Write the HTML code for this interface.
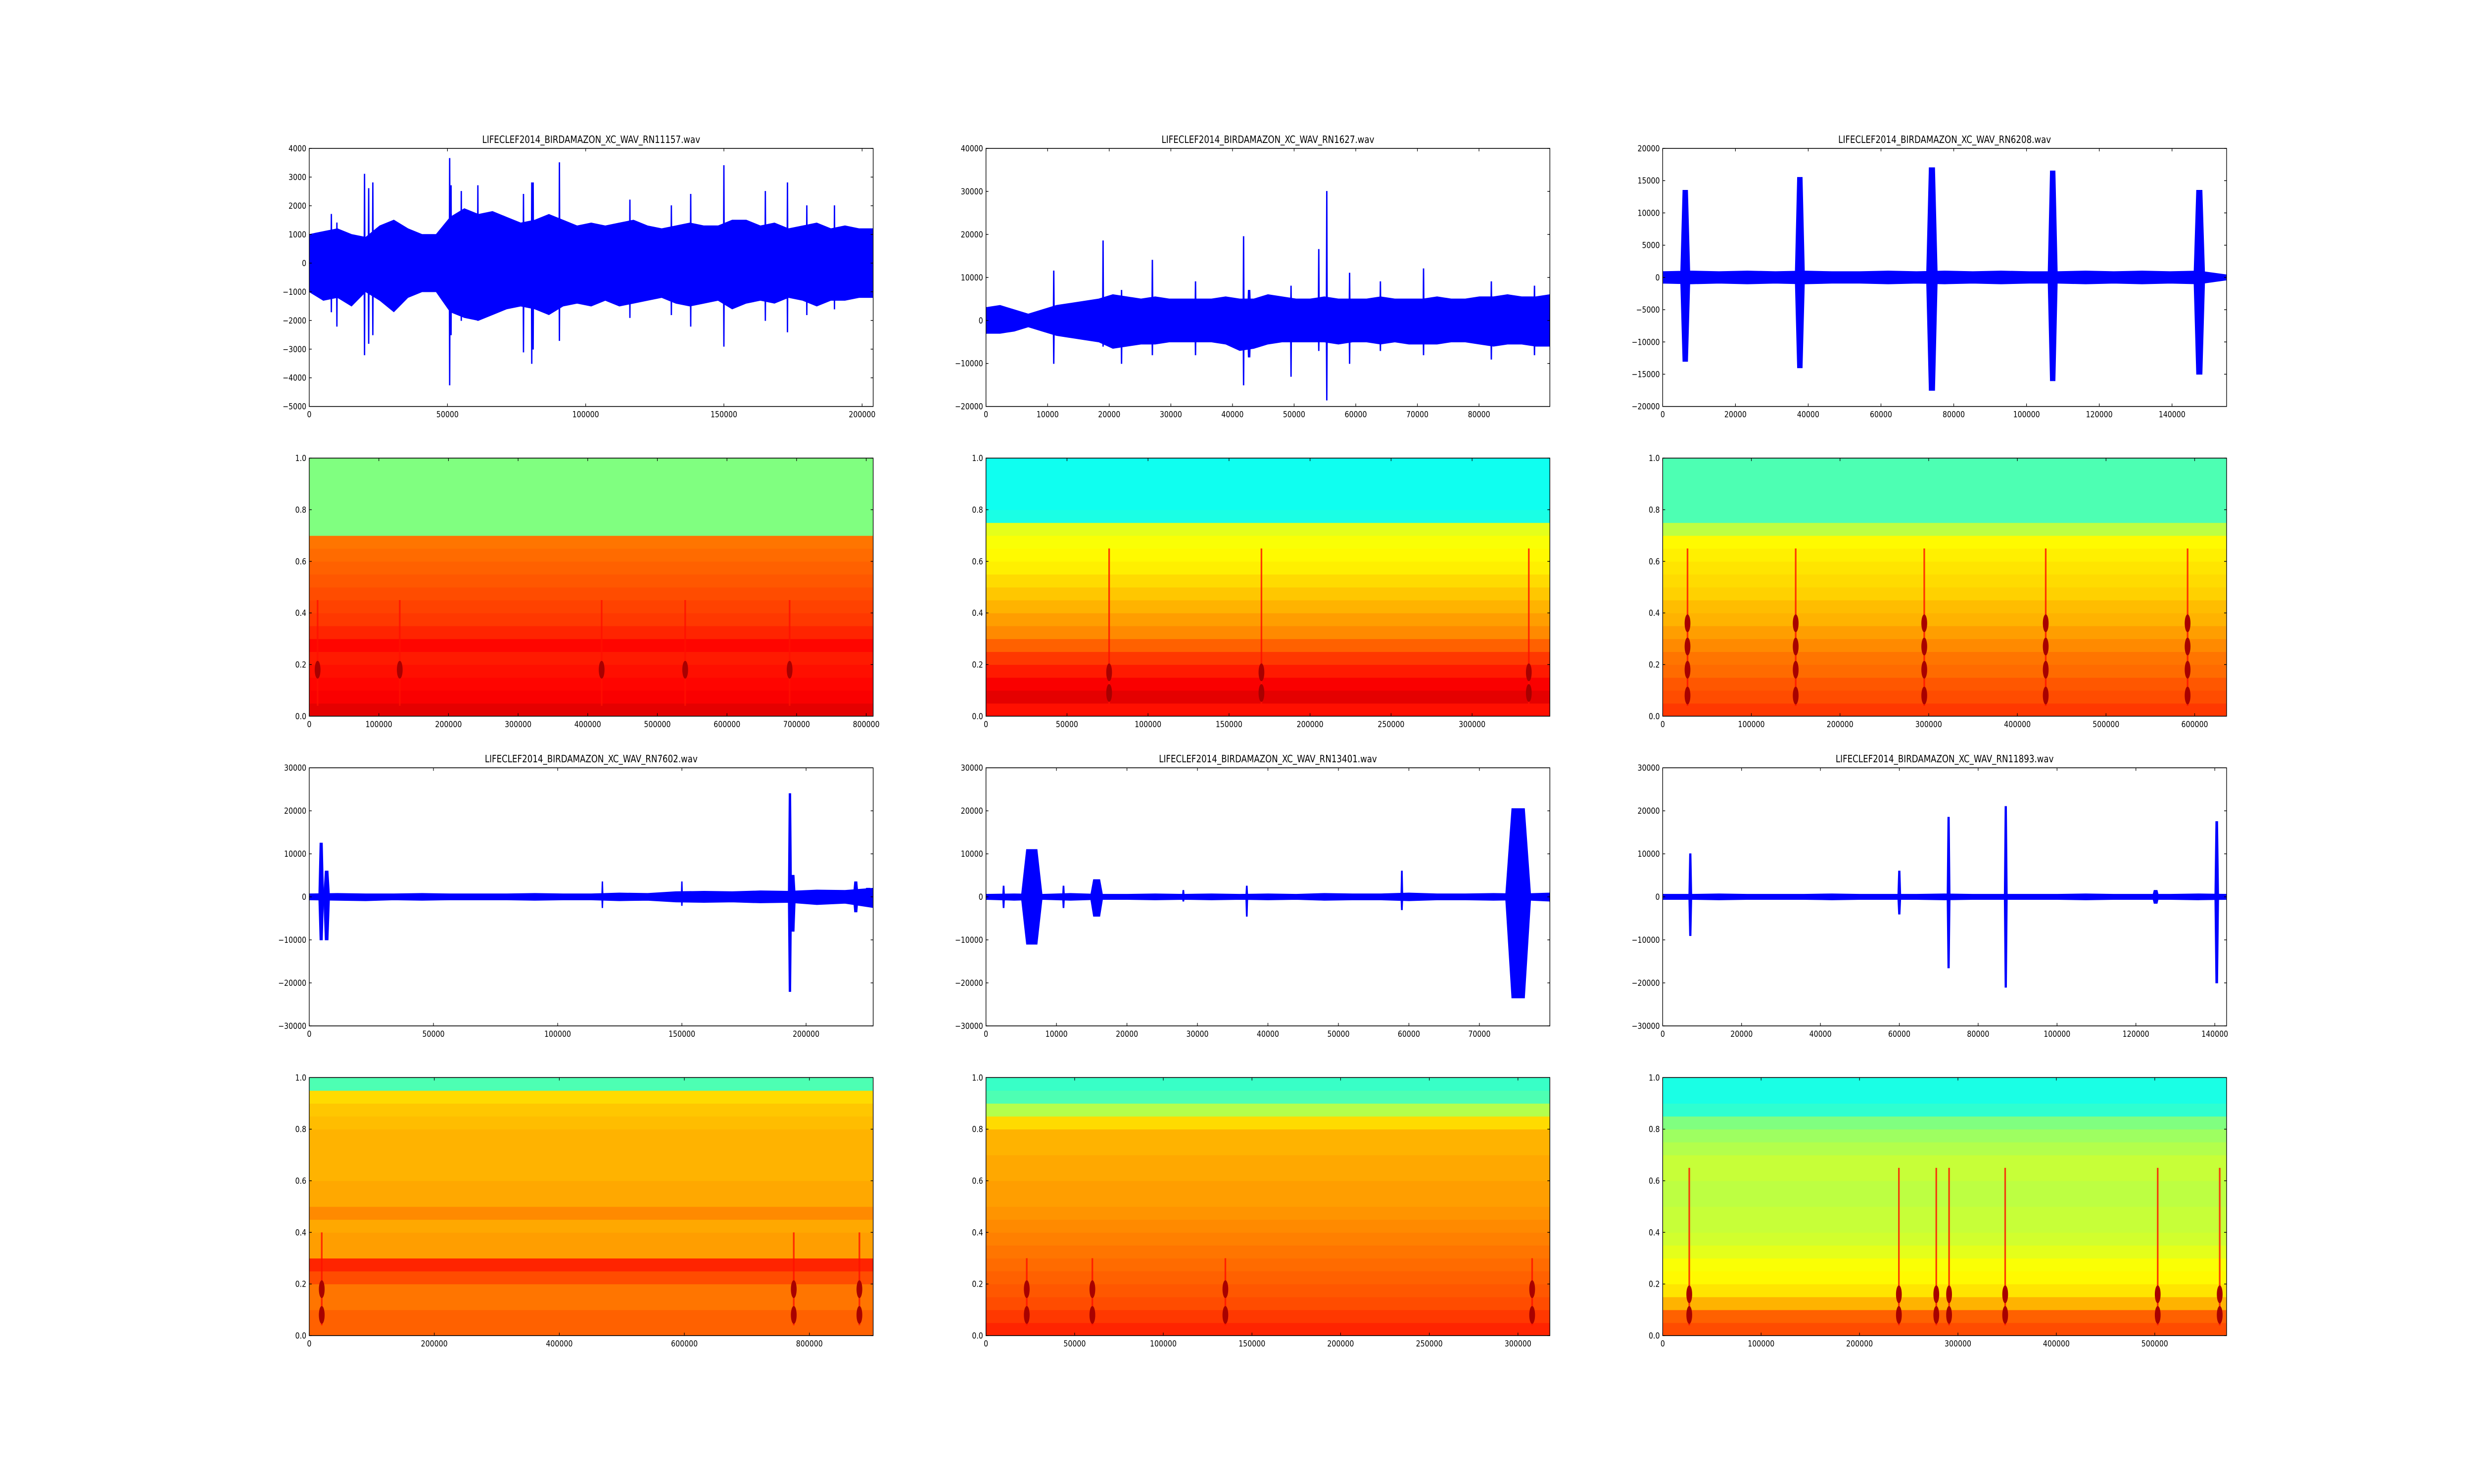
<!DOCTYPE html>
<html><head><meta charset="utf-8">
<style>
html,body{margin:0;padding:0;background:#fff;overflow:hidden;width:100%;height:100%;}
svg{display:block;width:100vw;height:100vh;}
text{font-family:"DejaVu Sans","Liberation Sans",sans-serif;fill:#000;}
</style></head>
<body>
<svg id="fig" viewBox="0 0 6000 3000" preserveAspectRatio="none" xmlns="http://www.w3.org/2000/svg">
<rect x="0" y="0" width="6000" height="3000" fill="#fff"/>
</svg>
<script>
// ---------- waveform data ----------
const titles = ["LIFECLEF2014_BIRDAMAZON_XC_WAV_RN11157.wav","LIFECLEF2014_BIRDAMAZON_XC_WAV_RN1627.wav","LIFECLEF2014_BIRDAMAZON_XC_WAV_RN6208.wav","LIFECLEF2014_BIRDAMAZON_XC_WAV_RN7602.wav","LIFECLEF2014_BIRDAMAZON_XC_WAV_RN13401.wav","LIFECLEF2014_BIRDAMAZON_XC_WAV_RN11893.wav"];
const waveXmax = [204000, 91500, 155000, 227000, 80000, 143000];
const waveYmin = [-5000, -20000, -20000, -30000, -30000, -30000];
const waveYmax = [4000, 40000, 20000, 30000, 30000, 30000];
const waveXticks = [[0,50000,100000,150000,200000],[0,10000,20000,30000,40000,50000,60000,70000,80000],[0,20000,40000,60000,80000,100000,120000,140000],[0,50000,100000,150000,200000],[0,10000,20000,30000,40000,50000,60000,70000],[0,20000,40000,60000,80000,100000,120000,140000]];
const waveYticks = [[-5000,-4000,-3000,-2000,-1000,0,1000,2000,3000,4000],[-20000,-10000,0,10000,20000,30000,40000],[-20000,-15000,-10000,-5000,0,5000,10000,15000,20000],[-30000,-20000,-10000,0,10000,20000,30000],[-30000,-20000,-10000,0,10000,20000,30000],[-30000,-20000,-10000,0,10000,20000,30000]];
const waveUpper = [
 [1000,1100,1200,1000,900,1300,1500,1200,1000,1000,1600,1900,1700,1800,1600,1400,1500,1700,1500,1300,1400,1300,1400,1500,1300,1200,1300,1400,1300,1300,1500,1500,1300,1400,1200,1300,1400,1200,1300,1200,1200],
 [3000,3500,2500,1500,2500,3500,4000,4500,5000,6000,5500,5000,5500,5000,5000,5000,5000,5500,5000,5000,6000,5500,5000,5000,5500,5000,5000,5000,5500,5000,5000,5000,5500,5000,5000,5500,5500,6000,5500,5500,6000],
 [900,1000,900,1000,900,1000,900,900,1000,900,1000,900,1000,900,900,1000,900,1000,900,1000,400],
 [700,800,700,700,800,700,700,700,800,700,700,900,800,1200,1300,1200,1400,1300,1600,1500,2000],
 [600,700,600,800,600,600,700,600,700,600,700,600,800,700,700,900,700,700,800,700,900],
 [600,600,700,600,600,600,700,600,600,600,700,600,600,600,600,700,600,600,600,700,600]
];
const waveLower = [
 [-1000,-1300,-1200,-1500,-1000,-1300,-1700,-1200,-1000,-1000,-1700,-1900,-2000,-1800,-1600,-1500,-1600,-1800,-1500,-1400,-1500,-1300,-1500,-1400,-1300,-1200,-1400,-1500,-1400,-1300,-1600,-1400,-1300,-1400,-1200,-1300,-1500,-1300,-1300,-1200,-1200],
 [-3000,-3000,-2500,-1500,-2500,-3500,-4000,-4500,-5000,-6500,-6000,-5500,-5500,-5000,-5000,-5000,-5000,-5500,-7000,-6500,-5500,-5000,-5000,-5000,-5000,-5500,-5000,-5000,-5500,-5000,-5500,-5500,-5500,-5000,-5000,-5500,-6000,-5500,-5500,-6000,-6000],
 [-900,-1000,-900,-1000,-900,-1000,-900,-900,-1000,-900,-1000,-900,-1000,-900,-900,-1000,-900,-1000,-900,-1000,-400],
 [-700,-800,-900,-700,-800,-700,-700,-700,-800,-700,-700,-900,-800,-1200,-1300,-1200,-1400,-1300,-1800,-1500,-2500],
 [-600,-800,-600,-800,-600,-600,-700,-600,-700,-600,-700,-600,-800,-700,-700,-900,-700,-700,-800,-700,-1000],
 [-600,-600,-700,-600,-600,-600,-700,-600,-600,-600,-700,-600,-600,-600,-600,-700,-600,-600,-600,-700,-600]
];
// events: [x, halfWidth, top, bottom]
const waveEvents = [
 [[8000,250,1700,-1700],[10000,250,1400,-2200],[20000,250,3100,-3200],[21500,250,2600,-2800],[23000,250,2800,-2500],[50800,250,3650,-4250],[51300,250,2700,-2500],[55000,250,2500,-2000],[61000,250,2700,-2000],[77500,250,2400,-3100],[80500,250,2800,-3500],[81000,250,2800,-3000],[90500,250,3500,-2700],[116000,250,2200,-1900],[131000,250,2000,-1800],[138000,250,2400,-2200],[150000,250,3400,-2900],[165000,250,2500,-2000],[173000,250,2800,-2400],[180000,250,2000,-1800],[190000,250,2000,-1600]],
 [[11000,120,11500,-10000],[19000,120,18500,-6000],[22000,120,7000,-10000],[27000,120,14000,-8000],[34000,120,9000,-8000],[41800,120,19500,-15000],[42700,300,7000,-8500],[49500,120,8000,-13000],[54000,120,16500,-7000],[55300,120,30000,-18500],[59000,120,11000,-10000],[64000,120,9000,-7000],[71000,120,12000,-8000],[82000,120,9000,-9000],[89000,120,8000,-8000]],
 [[6200,1300,13500,-13000],[37700,1300,15500,-14000],[74000,1500,17000,-17500],[107200,1300,16500,-16000],[147500,1500,13500,-15000]],
 [[4800,1000,12500,-10000],[7000,1200,6000,-10000],[118000,300,3500,-2500],[150000,300,3500,-2000],[193500,700,24000,-22000],[194700,1000,5000,-8000],[220000,1000,3500,-3500],[225000,1500,2000,-2000]],
 [[2500,150,2500,-2500],[6500,1500,11000,-11000],[11000,150,2500,-2500],[15700,900,4000,-4500],[28000,150,1500,-1000],[37000,150,2500,-4500],[59000,150,6000,-3000],[75500,1800,20500,-23500]],
 [[7000,400,10000,-9000],[60000,400,6000,-4000],[72500,400,18500,-16500],[87000,400,21000,-21000],[125000,800,1500,-1500],[140500,500,17500,-20000]]
];
// ---------- spectrogram data ----------
const specXmax = [810000, 348000, 636000, 902000, 318000, 573000];
const specXticks = [[0,100000,200000,300000,400000,500000,600000,700000,800000],[0,50000,100000,150000,200000,250000,300000],[0,100000,200000,300000,400000,500000,600000],[0,200000,400000,600000,800000],[0,50000,100000,150000,200000,250000,300000],[0,100000,200000,300000,400000,500000]];
const specYticks = [0,0.2,0.4,0.6,0.8,1.0];
// colormap level (jet 0..1) of 20 frequency bands, bottom to top
const specBands = [
 [0.9,0.88,0.87,0.86,0.85,0.87,0.84,0.82,0.81,0.80,0.79,0.78,0.77,0.76,0.5,0.5,0.5,0.5,0.5,0.5],
 [0.86,0.9,0.88,0.85,0.82,0.78,0.74,0.72,0.70,0.68,0.66,0.64,0.63,0.62,0.6,0.4,0.39,0.39,0.39,0.39],
 [0.82,0.8,0.79,0.77,0.76,0.74,0.72,0.7,0.69,0.67,0.66,0.65,0.64,0.63,0.56,0.45,0.45,0.45,0.45,0.45],
 [0.78,0.78,0.76,0.76,0.8,0.84,0.72,0.72,0.71,0.74,0.71,0.71,0.70,0.70,0.70,0.70,0.69,0.68,0.66,0.45],
 [0.84,0.82,0.8,0.79,0.78,0.77,0.76,0.75,0.74,0.73,0.72,0.72,0.71,0.71,0.70,0.70,0.66,0.55,0.45,0.43],
 [0.8,0.78,0.7,0.65,0.63,0.62,0.6,0.58,0.57,0.57,0.56,0.56,0.57,0.57,0.55,0.53,0.5,0.42,0.4,0.4]
];
const specCallTimes = [
 [12000,130000,420000,540000,690000],
 [76000,170000,335000],
 [28000,150000,295000,432000,592000],
 [20000,775000,880000],
 [23000,60000,135000,308000],
 [27000,240000,278000,291000,348000,503000,566000]
];
const specCallTop = [0.45,0.65,0.65,0.4,0.3,0.65];
const specBlobFreqs = [[0.18],[0.09,0.17],[0.08,0.18,0.27,0.36],[0.08,0.18],[0.08,0.18],[0.08,0.16]];

// ---------- layout ----------
const NS="http://www.w3.org/2000/svg";
const svg=document.getElementById('fig');
const colL=[750,2391.2,4032.4], AW=1367.6, rowT=[300,926.1,1552.2,2178.3], AH=521.7;
function jet(v){v=Math.max(0,Math.min(1,v));const c=t=>Math.round(255*Math.max(0,Math.min(1,1.5-Math.abs(4*v-t))));return `rgb(${c(3)},${c(2)},${c(1)})`;}
function mk(tag,attrs,parent){const e=document.createElementNS(NS,tag);for(const k in attrs)e.setAttribute(k,attrs[k]);(parent||svg).appendChild(e);return e;}
function fmt(v,dec){if(dec)return v.toFixed(1);return (v<0?'\u2212':'')+Math.abs(v);}
let clipId=0;
function axes(L,T,xmax,ymin,ymax,xt,yt,dec,name){
  const g=mk('g',{});
  
  
  const sx=v=>L+v/xmax*AW, sy=v=>T+AH-(v-ymin)/(ymax-ymin)*AH;
  const id='c'+(clipId++);
  const cp=mk('clipPath',{id:id},g);mk('rect',{x:L,y:T,width:AW,height:AH},cp);
  const plot=mk('g',{'clip-path':`url(#${id})`},g);
  
  
  return {g,plot,sx,sy,finish(){
    const fr=mk('rect',{x:L,y:T,width:AW,height:AH,fill:'none',stroke:'#000','stroke-width':1.6},g);
    
    
    xt.forEach(v=>{const x=sx(v);
      mk('line',{x1:x,y1:T+AH,x2:x,y2:T+AH-6,stroke:'#000','stroke-width':1.4},g);
      mk('line',{x1:x,y1:T,x2:x,y2:T+6,stroke:'#000','stroke-width':1.4},g);
      const t=mk('text',{x:x,y:T+AH+22,'font-size':17,'text-anchor':'middle'},g);t.textContent=fmt(v,false);
      
      });
    yt.forEach(v=>{const y=sy(v);
      mk('line',{x1:L,y1:y,x2:L+6,y2:y,stroke:'#000','stroke-width':1.4},g);
      mk('line',{x1:L+AW,y1:y,x2:L+AW-6,y2:y,stroke:'#000','stroke-width':1.4},g);
      const t=mk('text',{x:L-7,y:y+6,'font-size':17,'text-anchor':'end'},g);t.textContent=fmt(v,dec);
      
      });
  }};
}
// waveforms
for(let i=0;i<6;i++){
  const r=i<3?0:2, c=i%3, L=colL[c], T=rowT[r];
  const a=axes(L,T,waveXmax[i],waveYmin[i],waveYmax[i],waveXticks[i],waveYticks[i],false,'waveform-axes-'+(i+1));
  const up=waveUpper[i], lo=waveLower[i], n=up.length;
  let pts=[];
  for(let k=0;k<n;k++)pts.push(a.sx(k*waveXmax[i]/(n-1))+','+a.sy(up[k]));
  for(let k=n-1;k>=0;k--)pts.push(a.sx(k*waveXmax[i]/(n-1))+','+a.sy(lo[k]));
  const p=mk('polygon',{points:pts.join(' '),fill:'#0000ff',stroke:'#0000ff','stroke-width':1.4},a.plot);
  
  
  waveEvents[i].forEach(e=>{
    const [x,hw,tp,bt]=e;
    const q=[[x-hw,0],[x-hw*0.5,tp],[x+hw*0.5,tp],[x+hw,0],[x+hw*0.5,bt],[x-hw*0.5,bt]].map(d=>a.sx(d[0])+','+a.sy(d[1])).join(' ');
    const ev=mk('polygon',{points:q,fill:'#0000ff',stroke:'#0000ff','stroke-width':1.6},a.plot);
    
    
  });
  a.finish();
  const t=mk('text',{x:L+AW/2,y:T-11,'font-size':20,'text-anchor':'middle'});
  t.textContent=titles[i];
  
  
}
// spectrograms
for(let i=0;i<6;i++){
  const r=i<3?1:3, c=i%3, L=colL[c], T=rowT[r];
  const a=axes(L,T,specXmax[i],0,1,specXticks[i],specYticks,true,'spectrogram-axes-'+(i+1));
  const b=specBands[i], n=b.length;
  b.forEach((v,k)=>{
    const y1=a.sy((k+1)/n), y0=a.sy(k/n);
    const rc=mk('rect',{x:L,y:y1,width:AW,height:y0-y1+0.6,fill:jet(v)},a.plot);
    
    
  });
  specCallTimes[i].forEach(tm=>{
    const x=a.sx(tm);
    const s=mk('line',{x1:x,y1:a.sy(0.04),x2:x,y2:a.sy(specCallTop[i]),stroke:jet(0.86),'stroke-width':4,opacity:0.8},a.plot);
    
    
    specBlobFreqs[i].forEach(f=>{
      const el=mk('ellipse',{cx:x,cy:a.sy(f),rx:7,ry:18,fill:jet(0.96)},a.plot);
      
      
    });
  });
  a.finish();
}
</script>
</body></html>
